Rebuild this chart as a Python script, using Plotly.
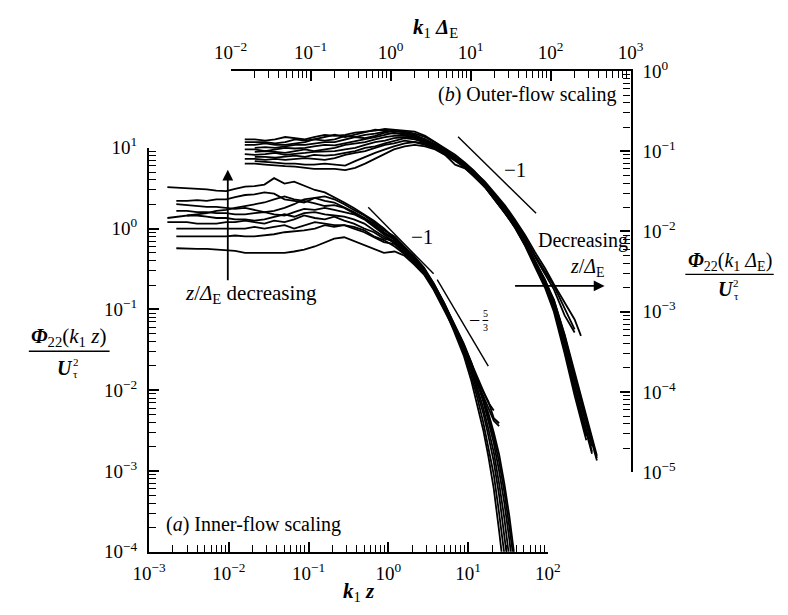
import plotly.graph_objects as go

# page is shown with the default 8px body margin, so the figure is sized to fit
OFF = 8
W, H = 788 - 2 * OFF, 615 - 2 * OFF
FONT = "Liberation Serif, DejaVu Serif, serif"

# ---------------- (a) inner-flow scaling: k1 z  vs  Phi22(k1 z)/U_tau^2 ----------------
k1z = [0.0017, 0.0022, 0.003, 0.004, 0.0053, 0.007, 0.0093, 0.012, 0.016, 0.021,
       0.028, 0.037, 0.05, 0.066, 0.088, 0.12, 0.16, 0.21, 0.28, 0.37,
       0.5, 0.66, 0.88, 1.2, 1.6, 2.1, 2.8, 3.7, 5.0, 6.6,
       8.8, 11, 13, 15.5, 18, 21, 24.5, 28.5, 33, 38]

a1 = [3.25, 3.2, 3.15, 3.15, 3.05, 2.95, 2.9, 3.1, 3.3, 3.35,
      3.5, 4.2, 3.6, 3.8, 3.4, 3.0, 2.8, 2.45, 2.1, 1.8,
      1.5, 1.25, 1.0, 0.76, 0.6, 0.46, 0.33, 0.21, 0.12, 0.067,
      0.038, 0.022, 0.0135, 0.0083, 0.0052, 0.003, 0.0016, 0.0007, 0.00027, 0.00009]
a2 = [None, 2.2, 2.2, 2.25, 2.2, 2.3, 2.3, 2.45, 2.6, 2.65,
      2.8, 2.7, 2.3, 2.2, 2.1, 2.4, 2.5, 2.3, 2.0, 1.7,
      1.45, 1.2, 0.95, 0.8, 0.6, 0.45, 0.32, 0.21, 0.12, 0.065,
      0.035, 0.019, 0.011, 0.006, 0.0033, 0.0017, 0.0007, 0.00026, 0.00008, None]
a3 = [1.35, 1.4, 1.45, 1.5, 1.55, 1.65, 1.7, 1.8, 1.9, 2.0,
      2.1, 2.3, 2.5, 2.3, 2.2, 2.05, 1.9, 1.95, 1.8, 1.55,
      1.35, 1.15, 0.9, 0.75, 0.58, 0.44, 0.31, 0.2, 0.11, 0.058,
      0.03, 0.015, 0.0082, 0.004, 0.002, 0.0009, 0.0003, 0.00009, 0.00003, None]
a4 = [None, 2.0, 1.95, 1.9, 1.85, 1.85, 1.8, 1.75, 1.8, 1.7,
      1.6, 1.65, 1.8, 2.0, 2.3, 2.4, 2.2, 2.1, 1.85, 1.6,
      1.35, 1.1, 0.88, 0.72, 0.57, 0.43, 0.31, 0.2, 0.118, 0.066,
      0.037, 0.021, 0.0125, 0.0072, 0.0041, 0.0022, 0.001, 0.0004, 0.00014, 0.00004]
a5 = [None, 1.65, 1.65, 1.6, 1.6, 1.55, 1.55, 1.5, 1.5, 1.55,
      1.6, 1.5, 1.45, 1.6, 1.75, 1.7, 1.8, 1.7, 1.6, 1.5,
      1.3, 1.05, 0.85, 0.68, 0.54, 0.42, 0.3, 0.2, 0.115, 0.062,
      0.033, 0.017, 0.0098, 0.0052, 0.0027, 0.0013, 0.0005, 0.00017, 0.00005, None]
a6 = [None, None, 1.45, 1.45, 1.4, 1.35, 1.35, 1.3, 1.3, 1.25,
      1.3, 1.4, 1.5, 1.4, 1.55, 1.6, 1.5, 1.45, 1.4, 1.3,
      1.15, 0.95, 0.8, 0.66, 0.52, 0.4, 0.29, 0.19, 0.112, 0.063,
      0.036, 0.021, 0.013, 0.0078, 0.0047, 0.0026, 0.0013, 0.00055, 0.0002, 0.00007]
a7 = [1.2, 1.2, 1.2, 1.15, 1.15, 1.15, 1.2, 1.2, 1.25, 1.2,
      1.15, 1.25, 1.2, 1.3, 1.45, 1.35, 1.3, 1.4, 1.25, 1.15,
      1.0, 0.9, 0.75, 0.7, 0.55, 0.42, 0.3, 0.19, 0.105, 0.055,
      0.027, 0.013, 0.0068, 0.0032, 0.0015, 0.0006, 0.00018, 0.00005, None, None]
a8 = [None, 1.0, 1.0, 1.0, 0.98, 0.98, 1.0, 1.0, 1.0, 1.05,
      1.0, 1.05, 1.1, 1.0, 1.1, 1.2, 1.15, 1.1, 1.1, 1.05,
      0.95, 0.8, 0.72, 0.6, 0.48, 0.38, 0.28, 0.18, 0.105, 0.06,
      0.034, 0.02, 0.0135, 0.0095, 0.0072, 0.0045, 0.0039, None, None, None]
a9 = [None, 0.8, 0.8, 0.8, 0.8, 0.8, 0.8, 0.82, 0.8, 0.8,
      0.82, 0.85, 0.9, 0.92, 0.95, 1.0, 1.1, 1.05, 1.1, 1.0,
      0.9, 0.78, 0.68, 0.64, 0.5, 0.39, 0.29, 0.19, 0.11, 0.062,
      0.036, 0.022, 0.0145, 0.0098, 0.007, 0.0056, None, None, None, None]
a10 = [None, 0.57, 0.56, 0.56, 0.56, 0.55, 0.55, 0.53, 0.5, 0.5,
       0.5, 0.5, 0.5, 0.52, 0.55, 0.6, 0.68, 0.75, 0.78, 0.7,
       0.62, 0.55, 0.5, 0.52, 0.46, 0.36, 0.27, 0.175, 0.1, 0.058,
       0.033, 0.019, 0.012, 0.0085, 0.006, 0.0042, 0.0036, None, None, None]

# reference slopes in (a)
slope_a_m1_x = [0.56, 3.7]
slope_a_m1_y = [1.83, 0.275]
slope_a_m53_x = [4.1, 17.9]
slope_a_m53_y = [0.234, 0.0199]

# ---------------- (b) outer-flow scaling: k1 Delta_E  vs  Phi22(k1 Delta_E)/U_tau^2 ----------------
k1dE = [0.015, 0.02, 0.027, 0.036, 0.048, 0.064, 0.085, 0.11, 0.15, 0.2,
        0.27, 0.36, 0.48, 0.64, 0.85, 1.1, 1.5, 2.0, 2.7, 3.6,
        4.8, 6.4, 8.5, 11, 15, 20, 27, 36, 48, 64,
        85, 110, 150, 200, 240, 280, 330, 380]

b1 = [0.14, 0.14, 0.135, 0.14, 0.15, 0.145, 0.14, 0.15, 0.16, 0.155,
      0.16, 0.17, 0.175, 0.18, 0.19, 0.185, 0.18, 0.175, 0.155, 0.13,
      0.11, 0.09, 0.072, 0.057, 0.041, 0.029, 0.019, 0.0125, 0.0075, 0.0042,
      0.0024, 0.0012, 0.0004, 0.00012, 0.00006, 0.000032, 0.000018, None]
b2 = [0.13, 0.13, 0.13, 0.125, 0.13, 0.14, 0.135, 0.14, 0.15, 0.16,
      0.15, 0.16, 0.17, 0.185, 0.18, 0.175, 0.175, 0.165, 0.15, 0.128,
      0.105, 0.086, 0.07, 0.055, 0.04, 0.028, 0.019, 0.0125, 0.0076, 0.0043,
      0.0025, 0.0013, 0.00045, 0.00014, 0.00007, 0.000038, 0.000021, None]
b3 = [0.12, 0.12, 0.125, 0.12, 0.12, 0.125, 0.13, 0.14, 0.135, 0.14,
      0.155, 0.15, 0.16, 0.165, 0.175, 0.18, 0.17, 0.16, 0.14, 0.12,
      0.1, 0.082, 0.068, 0.054, 0.04, 0.029, 0.02, 0.0135, 0.0085, 0.005,
      0.0032, 0.0021, 0.0011, 0.0006, None, None, None, None]
b4 = [None, 0.11, 0.112, 0.11, 0.115, 0.12, 0.12, 0.125, 0.13, 0.13,
      0.14, 0.15, 0.145, 0.155, 0.17, 0.165, 0.165, 0.155, 0.14, 0.122,
      0.1, 0.083, 0.067, 0.053, 0.038, 0.027, 0.018, 0.012, 0.0072, 0.0041,
      0.0023, 0.0012, 0.00038, 0.00011, 0.000055, 0.00003, 0.000017, None]
b5 = [0.105, 0.105, 0.1, 0.105, 0.11, 0.108, 0.11, 0.115, 0.12, 0.118,
      0.125, 0.135, 0.14, 0.15, 0.16, 0.17, 0.16, 0.15, 0.135, 0.118,
      0.098, 0.08, 0.065, 0.051, 0.037, 0.026, 0.0175, 0.0115, 0.0068, 0.0038,
      0.0021, 0.0011, 0.00033, 0.0001, 0.00005, 0.000028, None, None]
b6 = [None, 0.098, 0.1, 0.098, 0.095, 0.1, 0.105, 0.1, 0.105, 0.11,
      0.12, 0.125, 0.13, 0.14, 0.15, 0.155, 0.155, 0.15, 0.14, 0.12,
      0.1, 0.085, 0.07, 0.056, 0.042, 0.03, 0.021, 0.014, 0.009, 0.0055,
      0.0035, 0.0022, 0.0013, 0.0008, 0.0005, None, None, None]
b7 = [0.092, 0.09, 0.092, 0.095, 0.09, 0.092, 0.095, 0.098, 0.1, 0.1,
      0.105, 0.11, 0.12, 0.13, 0.135, 0.145, 0.15, 0.145, 0.13, 0.115,
      0.097, 0.08, 0.065, 0.052, 0.037, 0.026, 0.0175, 0.0118, 0.0072, 0.0042,
      0.0025, 0.0014, 0.0005, 0.00016, 0.00008, 0.000045, 0.000025, 0.000015]
b8 = [None, 0.085, 0.085, 0.083, 0.085, 0.088, 0.085, 0.09, 0.088, 0.09,
      0.095, 0.1, 0.11, 0.115, 0.125, 0.135, 0.145, 0.14, 0.128, 0.112,
      0.095, 0.078, 0.063, 0.05, 0.036, 0.025, 0.017, 0.011, 0.0066, 0.0036,
      0.002, 0.001, 0.0003, 0.00009, 0.000045, 0.000025, None, None]
b9 = [0.08, 0.08, 0.078, 0.08, 0.078, 0.08, 0.082, 0.08, 0.078, 0.082,
      0.09, 0.095, 0.1, 0.11, 0.12, 0.125, 0.135, 0.13, 0.125, 0.11,
      0.095, 0.08, 0.066, 0.052, 0.038, 0.027, 0.019, 0.013, 0.0082, 0.0048,
      0.003, 0.0019, 0.0009, 0.00055, None, None, None, None]
b10 = [None, 0.075, 0.074, 0.072, 0.07, 0.07, 0.068, 0.068, 0.07, 0.068,
       0.066, 0.075, 0.085, 0.095, 0.105, 0.115, 0.125, 0.13, 0.12, 0.108,
       0.09, 0.076, 0.062, 0.049, 0.036, 0.025, 0.017, 0.0112, 0.0068, 0.0039,
       0.0023, 0.0013, 0.00045, 0.00015, 0.000075, 0.00004, 0.000023, 0.000014]
b11 = [0.07, 0.07, 0.068, 0.066, 0.065, 0.064, 0.062, 0.06, 0.06, 0.06,
       0.058, 0.062, 0.07, 0.08, 0.092, 0.105, 0.115, 0.12, 0.115, 0.105,
       0.09, 0.068, 0.061, 0.049, 0.036, 0.025, 0.017, 0.0115, 0.007, 0.004,
       0.0024, 0.0014, 0.00052, 0.00018, 0.00009, 0.00005, 0.000028, 0.000016]

slope_b_m1_x = [6.97, 65.9]
slope_b_m1_y = [0.151, 0.0168]

# axis decade ranges (log10)
inner_x_dec = (-3, 2)
inner_y_dec = (-4, 1)
outer_x_dec = (-2, 3)
outer_y_dec = (-5, 0)

# ---------------- figure ----------------
fig = go.Figure()
LW = 1.8
for ys in [a1, a2, a3, a4, a5, a6, a7, a8, a9, a10]:
    fig.add_trace(go.Scatter(x=k1z, y=ys, mode="lines", xaxis="x", yaxis="y",
                             line=dict(color="black", width=LW), showlegend=False, hoverinfo="skip"))
for ys in [b1, b2, b3, b4, b5, b6, b7, b8, b9, b10, b11]:
    fig.add_trace(go.Scatter(x=k1dE, y=ys, mode="lines", xaxis="x2", yaxis="y2",
                             line=dict(color="black", width=LW), showlegend=False, hoverinfo="skip"))
for sx, sy, xa, ya in [(slope_a_m1_x, slope_a_m1_y, "x", "y"),
                       (slope_a_m53_x, slope_a_m53_y, "x", "y"),
                       (slope_b_m1_x, slope_b_m1_y, "x2", "y2")]:
    fig.add_trace(go.Scatter(x=sx, y=sy, mode="lines", xaxis=xa, yaxis=ya,
                             line=dict(color="black", width=1.4), showlegend=False, hoverinfo="skip"))


def fx(px):
    return (px - OFF) / W


def fy(py):
    return 1 - (py - OFF) / H


def tick_vals(lo, hi):
    return [10.0 ** e for e in range(lo, hi + 1)]


def minor_vals(lo, hi):
    return [m * 10.0 ** e for e in range(lo, hi) for m in range(2, 10)]


def tick_text(lo, hi):
    return ["10<sup>%s%d</sup>" % ("\u2212" if e < 0 else "", abs(e)) for e in range(lo, hi + 1)]


def axis(dec, domain, side, anchor, standoff):
    lo, hi = dec
    return dict(type="log", range=[lo, hi], domain=domain, side=side, anchor=anchor,
                showline=True, linecolor="black", linewidth=2.2, mirror=False,
                showgrid=False, zeroline=False,
                tickmode="array", tickvals=tick_vals(lo, hi), ticktext=tick_text(lo, hi),
                ticks="inside", ticklen=10, tickwidth=1.6, tickcolor="black",
                minor=dict(tickmode="array", tickvals=minor_vals(lo, hi), ticks="inside",
                           ticklen=7, tickwidth=1.3, tickcolor="black", showgrid=False),
                tickfont=dict(family=FONT, size=19, color="black"),
                ticklabelstandoff=standoff,
                fixedrange=True)


fig.update_layout(
    width=W, height=H, autosize=False,
    margin=dict(l=0, r=0, t=0, b=0),
    paper_bgcolor="white", plot_bgcolor="rgba(0,0,0,0)",
    font=dict(family=FONT, color="black"),
    xaxis=axis(inner_x_dec, [fx(137), fx(552)], "bottom", "y", 3),
    yaxis=axis(inner_y_dec, [fy(561), fy(140)], "left", "x", 6),
    xaxis2=axis(outer_x_dec, [fx(222), fx(638)], "top", "y2", 2),
    yaxis2=axis(outer_y_dec, [fy(478), fy(60)], "right", "x2", 6),
)

anns = []


def ann(text, px, py, size=17, xanchor="center", yanchor="middle"):
    anns.append(dict(text=text, x=fx(px), y=fy(py), xref="paper", yref="paper",
                     showarrow=False, xanchor=xanchor, yanchor=yanchor,
                     font=dict(family=FONT, size=size, color="black")))


ann("<b><i>k</i></b><sub>1</sub> <b><i>z</i></b>", 355, 603, 21)
ann("<b><i>k</i></b><sub>1</sub> <b><i>Δ</i></b><sub>E</sub>", 435, 15, 21)
ann("(<i>a</i>) Inner-flow scaling", 246, 533, 20)
ann("(<i>b</i>) Outer-flow scaling", 530, 85, 20)
ann("<i>z</i>/<i>Δ</i><sub>E</sub> decreasing", 243, 292, 21)
ann("Decreasing", 589, 237, 20)
ann("<i>z</i>/<i>Δ</i><sub>E</sub>", 593, 265, 20)
ann("\u22121", 421, 233, 21)
ann("\u22121", 518, 163, 21)
ann("\u2212", 476, 320, 20)
ann("5", 487, 313, 10)
ann("3", 487, 327, 10)
# left fraction (centred on the inner ordinate)
ann("<b><i>Φ</i></b><sub>22</sub>(<i>k</i><sub>1</sub> <i>z</i>)", 53, 337, 21)
ann("<b><i>U</i></b>", 50, 369, 20)
ann("2", 61, 363, 11)
ann("τ", 61, 376, 11)
# right fraction (centred on the outer ordinate)
ann("<b><i>Φ</i></b><sub>22</sub>(<i>k</i><sub>1</sub> <i>Δ</i><sub>E</sub>)", 741, 259, 20)
ann("<b><i>U</i></b>", 737, 287, 20)
ann("2", 748, 281, 11)
ann("τ", 748, 294, 11)

# arrows
anns.append(dict(x=fx(219), y=fy(163), xref="paper", yref="paper", text="",
                 showarrow=True, ax=0, ay=112, arrowhead=2, arrowsize=1.2,
                 arrowwidth=1.8, arrowcolor="black"))
anns.append(dict(x=fx(611), y=fy(284), xref="paper", yref="paper", text="",
                 showarrow=True, ax=-91, ay=0, arrowhead=2, arrowsize=1.2,
                 arrowwidth=1.8, arrowcolor="black"))

fig.update_layout(annotations=anns)

shapes = [
    dict(type="line", xref="paper", yref="paper", x0=fx(12), x1=fx(96), y0=fy(352), y1=fy(352),
         line=dict(color="black", width=1.4)),
    dict(type="line", xref="paper", yref="paper", x0=fx(695), x1=fx(787), y0=fy(272), y1=fy(272),
         line=dict(color="black", width=1.4)),
    dict(type="line", xref="paper", yref="paper", x0=fx(484), x1=fx(490), y0=fy(320), y1=fy(320),
         line=dict(color="black", width=1)),
]
fig.update_layout(shapes=shapes)

fig.write_html("out.html")
